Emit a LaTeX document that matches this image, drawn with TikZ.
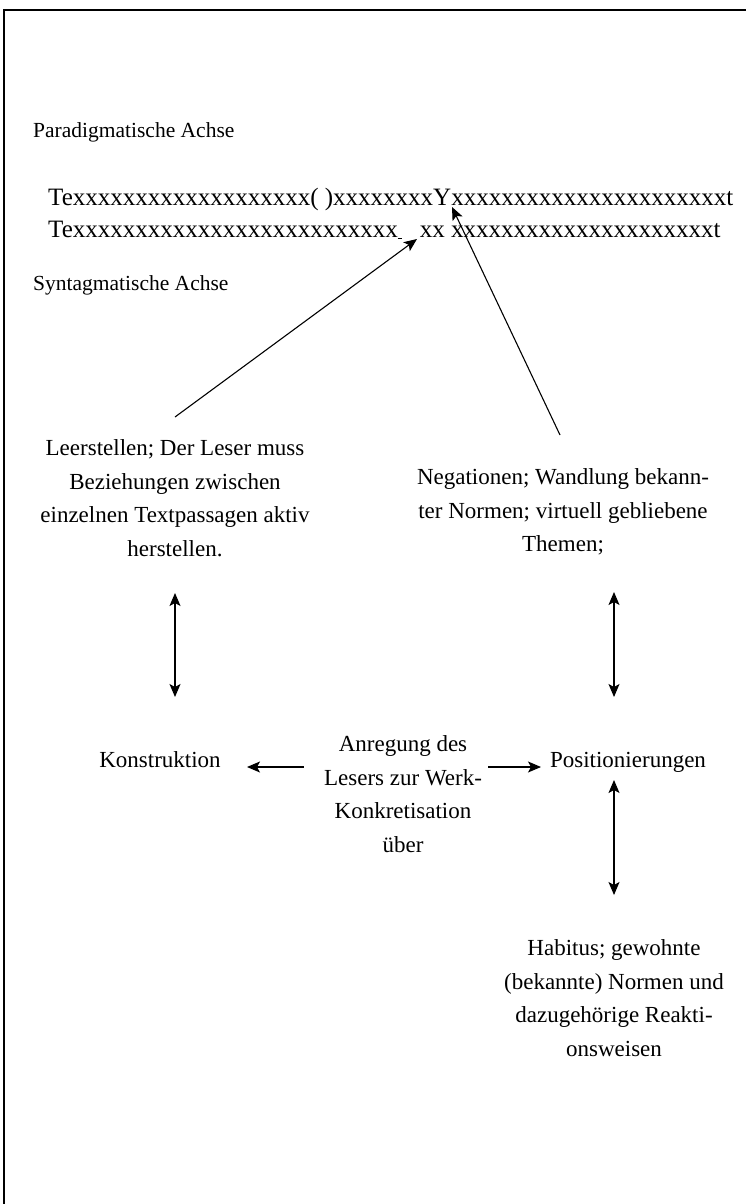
\documentclass[tikz,border=0pt]{standalone}
\usepackage{fontspec}
\setmainfont{Liberation Serif}
\usetikzlibrary{arrows.meta}

\ExplSyntaxOn
\cs_new:Npn \xrep #1 { \prg_replicate:nn {#1} {x} }
\ExplSyntaxOff

\begin{document}
\begin{tikzpicture}[x=1pt,y=-1pt,
    txt/.style={font=\fontsize{23}{33.5}\selectfont, align=center, inner sep=0pt},
    lbl/.style={font=\fontsize{21.5}{30}\selectfont, inner sep=0pt, anchor=base west},
    axis/.style={font=\fontsize{25}{32}\selectfont, inner sep=0pt, anchor=base west},
    arr/.style={-{Stealth[length=13pt,width=11pt,inset=3pt]}, line width=1.1pt},
    dbl/.style={{Stealth[length=13pt,width=11pt,inset=3pt]}-{Stealth[length=13pt,width=11pt,inset=3pt]}, line width=1.1pt}]

    \useasboundingbox (0,0) rectangle (746,1204);
    \draw[line width=1.2pt] (4,1204) -- (4,10) -- (746,10);

    % axes and text lines
    \node[lbl] (para) at (33,137) {Paradigmatische Achse};
    \node[axis] (zeile1) at (48,205) {Te\xrep{19}(~)\xrep{8}Y\xrep{22}t};
    \node[axis] (zeile2) at (48,237) {Te\xrep{26}\underline{\,}\hspace{18pt}xx~\xrep{21}t};
    \node[lbl] (syn) at (33,290) {Syntagmatische Achse};

    \begin{scope}[every node/.style={txt}]
        \node (leer) at (175,498) {Leerstellen; Der Leser muss\\Beziehungen zwischen\\einzelnen Textpassagen aktiv\\herstellen.};
        \node (neg) at (563,512) {Negationen; Wandlung bekann-\\ter Normen; virtuell gebliebene\\Themen;};
        \node[anchor=base] (konst) at (160,767) {Konstruktion};
        \node (anreg) at (403,794) {Anregung des\\Lesers zur Werk-\\Konkretisation\\über};
        \node[anchor=base] (pos) at (628,767) {Positionierungen};
        \node (hab) at (614,998) {Habitus; gewohnte\\(bekannte) Normen und\\dazugehörige Reakti-\\onsweisen};
    \end{scope}

    \coordinate (luecke) at (417,239);
    \coordinate (ypsilon) at (452,207);
    \coordinate (lstart) at (175,417);
    \coordinate (rstart) at (560,435);
    \coordinate (l1) at (175,593);
    \coordinate (l2) at (175,697);
    \coordinate (r1) at (614,592);
    \coordinate (r2) at (614,697);
    \coordinate (r3) at (614,780);
    \coordinate (r4) at (614,895);
    \coordinate (kpfeil) at (247,767);
    \coordinate (ppfeil) at (541,767);

    \draw[arr] (lstart) -- (luecke);
    \draw[arr] (rstart) -- (ypsilon);
    \draw[dbl] (l1) -- (l2);
    \draw[dbl] (r1) -- (r2);
    \draw[dbl] (r3) -- (r4);
    \draw[arr] (anreg.west |- kpfeil) ++(-20,0) -- (kpfeil);
    \draw[arr] (anreg.east |- ppfeil) ++(6,0) -- (ppfeil);

\end{tikzpicture}
\end{document}
